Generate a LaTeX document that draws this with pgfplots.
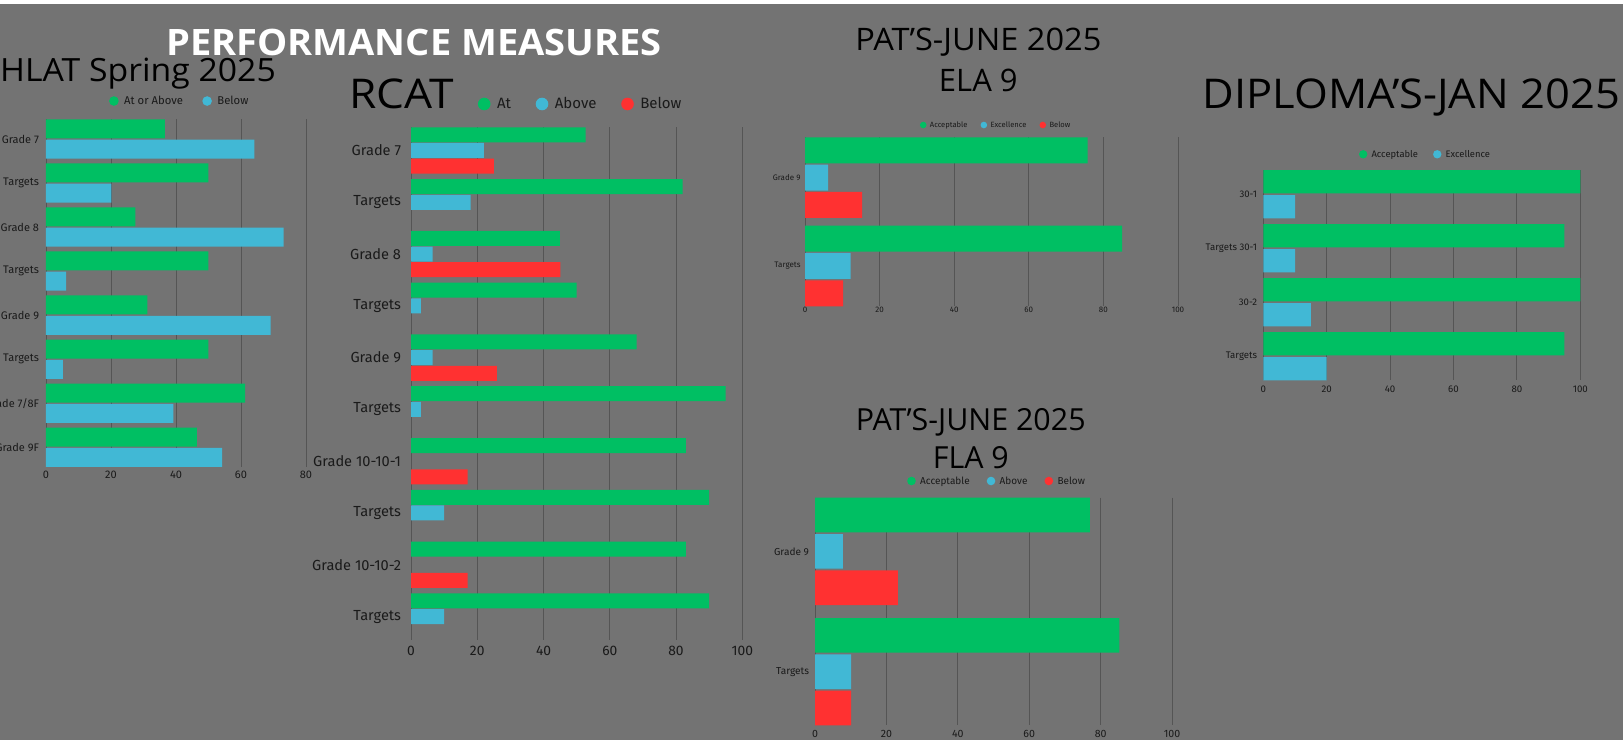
\documentclass[border=0pt]{standalone}
\usepackage{pgfplots}
\pgfplotsset{compat=1.18}
\usepackage{fontspec}
\setmainfont{Fira Sans}
\newfontfamily\titlefont{Open Sans}
\definecolor{bg}{HTML}{737373}
\definecolor{cgreen}{HTML}{00BF63}
\definecolor{cblue}{HTML}{41B8D5}
\definecolor{cred}{HTML}{FF3131}
\definecolor{gridc}{HTML}{555555}
\definecolor{txt}{HTML}{1A1A1A}
\newcommand\fs[1]{\fontsize{#1}{#1}\selectfont}
\pgfplotsset{
  panel/.style={
    scale only axis, anchor=north west, xbar, xmin=0,
    y dir=reverse, enlarge y limits=false,
    axis line style={draw=none}, tick style={draw=none},
    xmajorgrids, grid style={draw=gridc, line width=0.9pt},
    /pgf/number format/assume math mode=true,
    yticklabel style={inner sep=0pt, anchor=east, text=txt},
    xticklabel style={inner sep=0pt, anchor=base, text=txt},
    legend style={draw=none, fill=none, legend columns=-1, text=txt,
      nodes={inner sep=0pt}, anchor=west},
  },
}
\begin{document}
\begin{tikzpicture}
\useasboundingbox (0,0) rectangle (1623pt,-740pt);
\clip (0,0) rectangle (1623pt,-740pt);
\fill[bg] (0,0) rectangle (1623pt,-740pt);
\fill[white] (0,0) rectangle (1623pt,-4pt);

% titles
\node[anchor=base, inner sep=0pt, font=\titlefont\bfseries\fs{36.4}, text=white, xscale=1.045, transform shape] at (414pt,-55pt) {PERFORMANCE MEASURES};
\node[anchor=base west, inner sep=0pt, font=\titlefont\fs{32}, text=black, xscale=1.055, transform shape] at (0pt,-81pt) {HLAT Spring 2025};
\node[anchor=base west, inner sep=0pt, font=\titlefont\fs{41}, text=black, xscale=1.08, transform shape] at (349pt,-108pt) {RCAT};
\node[anchor=base, inner sep=0pt, font=\titlefont\fs{31}, text=black, xscale=1.05, transform shape] at (978.3pt,-50.7pt) {PAT’S-JUNE 2025};
\node[anchor=base, inner sep=0pt, font=\titlefont\fs{31}, text=black] at (978.3pt,-91.7pt) {ELA 9};
\node[anchor=base, inner sep=0pt, font=\titlefont\fs{30.4}, text=black] at (970.7pt,-430pt) {PAT’S-JUNE 2025};
\node[anchor=base, inner sep=0pt, font=\titlefont\fs{30.4}, text=black] at (970.8pt,-468.3pt) {FLA 9};
\node[anchor=base, inner sep=0pt, font=\titlefont\fs{41}, text=black, xscale=1.06, transform shape] at (1411.3pt,-108.3pt) {DIPLOMA’S-JAN 2025};

% HLAT
\begin{axis}[panel, at={(46pt,-119.3pt)}, width=260pt, height=347.6pt,
  xmax=80, xtick={0,20,40,60,80}, ymin=-0.446, ymax=7.446,
  ytick={0,...,7}, yticklabels={Grade 7,Targets,Grade 8,Targets,Grade 9,Targets,Grade 7/8F,Grade 9F},
  yticklabel style={font=\fs{11}, xshift=-2.5pt},
  xticklabel style={font=\fs{11}, yshift=-11.9pt},
  bar width=19pt,
  legend image code/.code={\fill[#1] (0pt,0pt) circle (4.8pt);},
  legend style={at={(0.2304,1.0526)}, font=\fs{11.3},
    /tikz/every odd column/.append style={column sep=5.5pt},
    /tikz/every even column/.append style={column sep=19.2pt}},
]
\addplot[fill=cgreen, draw=none, bar shift=10.15pt] coordinates {(36.6,0) (50,1) (27.5,2) (50,3) (31.2,4) (50,5) (61.3,6) (46.4,7)};
\addplot[fill=cblue, draw=none, bar shift=-10.15pt] coordinates {(64.1,0) (20.1,1) (73.1,2) (6.2,3) (69.1,4) (5.2,5) (39.2,6) (54.2,7)};
\legend{At or Above, Below}
\end{axis}

% RCAT
\begin{axis}[panel, at={(411pt,-127.3pt)}, width=331.3pt, height=512.4pt,
  xmax=100, xtick={0,20,...,100}, ymin=-0.447, ymax=9.447,
  ytick={0,...,9}, yticklabels={Grade 7,Targets,Grade 8,Targets,Grade 9,Targets,Grade 10-10-1,Targets,Grade 10-10-2,Targets},
  yticklabel style={font=\fs{14.6}, xshift=-5.5pt},
  xticklabel style={font=\fs{13.8}, yshift=-15.9pt},
  bar width=15pt,
  legend image code/.code={\fill[#1] (0pt,0pt) circle (6.3pt);},
  legend style={at={(0.1923,1.0455)}, font=\fs{15},
    /tikz/every odd column/.append style={column sep=6.5pt},
    /tikz/every even column/.append style={column sep=24.7pt}},
]
\addplot[fill=cgreen, draw=none, bar shift=15.67pt] coordinates {(52.7,0) (82,1) (44.9,2) (50,3) (68.1,4) (95,5) (83,6) (90,7) (83,8) (90,9)};
\addplot[fill=cblue, draw=none, bar shift=0pt] coordinates {(22,0) (18,1) (6.5,2) (3,3) (6.5,4) (3,5) (10,7) (10,9)};
\addplot[fill=cred, draw=none, bar shift=-15.67pt] coordinates {(25,0) (45.1,2) (25.9,4) (17.1,6) (17.1,8)};
\legend{At, Above, Below}
\end{axis}

% ELA 9
\begin{axis}[panel, at={(805pt,-137.3pt)}, width=373pt, height=169pt,
  xmax=100, xtick={0,20,...,100}, ymin=-0.457, ymax=1.457,
  ytick={0,1}, yticklabels={Grade 9,Targets},
  yticklabel style={font=\fs{8}, xshift=0pt},
  xticklabel style={font=\fs{8}, yshift=-6.4pt},
  bar width=26pt,
  legend image code/.code={\fill[#1] (0pt,0pt) circle (3.3pt);},
  legend style={at={(0.2995,1.0728)}, font=\fs{7.6},
    /tikz/every odd column/.append style={column sep=3.4pt},
    /tikz/every even column/.append style={column sep=13pt}},
]
\addplot[fill=cgreen, draw=none, bar shift=27.3pt] coordinates {(75.8,0) (85,1)};
\addplot[fill=cblue, draw=none, bar shift=0pt] coordinates {(6.2,0) (12.2,1)};
\addplot[fill=cred, draw=none, bar shift=-27.3pt] coordinates {(15.3,0) (10.2,1)};
\legend{Acceptable, Excellence, Below}
\end{axis}

% FLA 9
\begin{axis}[panel, at={(815pt,-497.7pt)}, width=357.1pt, height=227.6pt,
  xmax=100, xtick={0,20,...,100}, ymin=-0.446, ymax=1.446,
  ytick={0,1}, yticklabels={Grade 9,Targets},
  yticklabel style={font=\fs{10.1}, xshift=-1.5pt},
  xticklabel style={font=\fs{10.6}, yshift=-12pt},
  bar width=34.7pt,
  legend image code/.code={\fill[#1] (0pt,0pt) circle (4.3pt);},
  legend style={at={(0.2492,1.0734)}, font=\fs{10},
    /tikz/every odd column/.append style={column sep=4.4pt},
    /tikz/every even column/.append style={column sep=17pt}},
]
\addplot[fill=cgreen, draw=none, bar shift=36.3pt] coordinates {(77,0) (85.2,1)};
\addplot[fill=cblue, draw=none, bar shift=0pt] coordinates {(7.8,0) (10.1,1)};
\addplot[fill=cred, draw=none, bar shift=-36.3pt] coordinates {(23.2,0) (10.1,1)};
\legend{Acceptable, Above, Below}
\end{axis}

% DIPLOMA
\begin{axis}[panel, at={(1263.3pt,-170pt)}, width=317pt, height=210.3pt,
  xmax=100, xtick={0,20,...,100}, ymin=-0.447, ymax=3.447,
  ytick={0,...,3}, yticklabels={30-1,Targets 30-1,30-2,Targets},
  yticklabel style={font=\fs{9.6}, xshift=-1.8pt},
  xticklabel style={font=\fs{9.7}, yshift=-12.4pt},
  bar width=23.3pt,
  legend image code/.code={\fill[#1] (0pt,0pt) circle (4.2pt);},
  legend style={at={(0.2918,1.0747)}, font=\fs{9.4},
    /tikz/every odd column/.append style={column sep=4.1pt},
    /tikz/every even column/.append style={column sep=15pt}},
]
\addplot[fill=cgreen, draw=none, bar shift=12.5pt] coordinates {(100,0) (95,1) (100,2) (95,3)};
\addplot[fill=cblue, draw=none, bar shift=-12.5pt] coordinates {(10,0) (10,1) (15,2) (20,3)};
\legend{Acceptable, Excellence}
\end{axis}
\end{tikzpicture}
\end{document}
